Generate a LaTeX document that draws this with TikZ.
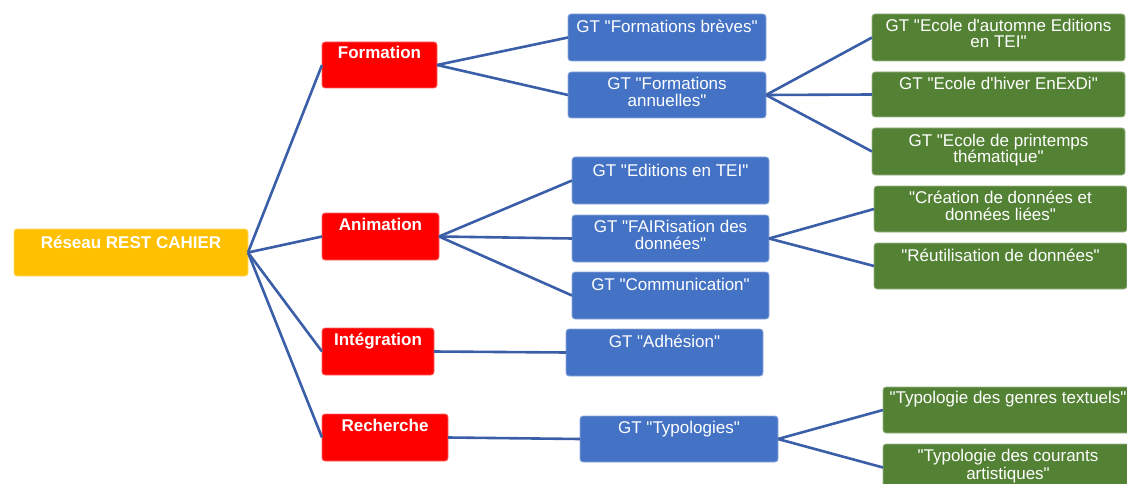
\documentclass[tikz,border=0pt]{standalone}
\usepackage{fontspec}
\setmainfont{Liberation Sans}
\usetikzlibrary{calc}
\definecolor{cOrange}{HTML}{FFC000}
\definecolor{cRed}{HTML}{FF0000}
\definecolor{cBlue}{HTML}{4472C4}
\definecolor{cGreen}{HTML}{548235}
\definecolor{cLine}{HTML}{3B5EA8}
\newcommand\qd{\textquotedbl}
\newcommand\qs{\textquotesingle}
\newcommand\mkbox[6]{%
  \node[#2, minimum width={(#5-#3)*1pt}, minimum height={(#6-#4)*1pt}] (#1) at ({(#3+#5)/2},{(#4+#6)/2}) {};}
\begin{document}
\begin{tikzpicture}[x=1pt,y=-1pt,
  boxbase/.style={rectangle, rounded corners=3pt, inner sep=0pt, outer sep=0pt, line width=0.8pt},
  rootbox/.style={boxbase, fill=cOrange, draw=cOrange!60!white},
  redbox/.style={boxbase, fill=cRed, draw=cRed!60!white},
  bluebox/.style={boxbase, fill=cBlue, draw=cBlue!60!white},
  greenbox/.style={boxbase, fill=cGreen, draw=cGreen!60!white},
  txt/.style={text=white, inner sep=0pt, outer sep=0pt, anchor=base, font=\fontsize{17pt}{17pt}\selectfont},
  btxt/.style={txt, font=\fontsize{17pt}{17pt}\selectfont\bfseries},
  link/.style={draw=cLine, line width=2.6pt}]
\useasboundingbox (0,0) rectangle (1127,484);

% boxes
\mkbox{root}{rootbox}{14}{229}{248}{276}
\mkbox{form}{redbox}{322}{42}{437}{88}
\mkbox{anim}{redbox}{322}{213}{439}{260}
\mkbox{integ}{redbox}{322}{328}{434}{375}
\mkbox{rech}{redbox}{322}{414}{448}{461}

\mkbox{fbr}{bluebox}{568}{14}{766}{61}
\mkbox{fan}{bluebox}{568}{72}{766}{118}
\mkbox{etei}{bluebox}{572}{157}{769}{204}
\mkbox{fair}{bluebox}{572}{215}{769}{262}
\mkbox{comm}{bluebox}{572}{272}{769}{319}
\mkbox{adh}{bluebox}{566}{329}{763}{376}
\mkbox{typo}{bluebox}{580}{416}{778}{462}

\mkbox{aut}{greenbox}{872}{14}{1125}{61}
\mkbox{hiv}{greenbox}{872}{72}{1125}{117}
\mkbox{prin}{greenbox}{872}{128}{1125}{175}
\mkbox{crea}{greenbox}{874}{186}{1127}{232}
\mkbox{reut}{greenbox}{874}{243}{1127}{289}
\mkbox{genr}{greenbox}{883}{387}{1133}{433}
\mkbox{cour}{greenbox}{883}{444}{1133}{491}

% texts
\node[btxt] (root-t) at ($(root.north)+(0,19)$) {Réseau REST CAHIER};
\node[btxt] (form-t) at ($(form.north)+(0,17)$) {Formation};
\node[btxt] (anim-t) at ($(anim.north)+(0,17)$) {Animation};
\node[btxt] (integ-t) at ($(integ.north)+(0,17.5)$) {Intégration};
\node[btxt] (rech-t) at ($(rech.north)+(0,17.5)$) {Recherche};

\node[txt] (fbr-t) at ($(fbr.north)+(0,19)$) {GT \qd Formations brèves\qd};
\node[txt] (fan-t1) at ($(fan.north)+(0,17.3)$) {GT \qd Formations};
\node[txt] (fan-t2) at ($(fan.north)+(0,34.3)$) {annuelles\qd};
\node[txt] (etei-t) at ($(etei.north)+(0,19)$) {GT \qd Editions en TEI\qd};
\node[txt] (fair-t1) at ($(fair.north)+(0,17)$) {GT \qd FAIRisation des};
\node[txt] (fair-t2) at ($(fair.north)+(0,34)$) {données\qd};
\node[txt] (comm-t) at ($(comm.north)+(0,18)$) {GT \qd Communication\qd};
\node[txt] (adh-t) at ($(adh.north)+(0,18.7)$) {GT \qd Adhésion\qd};
\node[txt] (typo-t) at ($(typo.north)+(0,17.5)$) {GT \qd Typologies\qd};

\node[txt] (aut-t1) at ($(aut.north)+(0,17.7)$) {GT \qd Ecole d\qs automne Editions};
\node[txt] (aut-t2) at ($(aut.north)+(0,33.7)$) {en TEI\qd};
\node[txt] (hiv-t) at ($(hiv.north)+(0,17.3)$) {GT \qd Ecole d\qs hiver EnExDi\qd};
\node[txt] (prin-t1) at ($(prin.north)+(0,18.5)$) {GT \qd Ecole de printemps};
\node[txt] (prin-t2) at ($(prin.north)+(0,34.7)$) {thématique\qd};
\node[txt] (crea-t1) at ($(crea.north)+(0,17)$) {\qd Création de données et};
\node[txt] (crea-t2) at ($(crea.north)+(0,34)$) {données liées\qd};
\node[txt] (reut-t) at ($(reut.north)+(0,18.7)$) {\qd Réutilisation de données\qd};
\node[txt] (genr-t) at ($(genr.north)+(0,16.5)$) {\qd Typologie des genres textuels\qd};
\node[txt] (cour-t1) at ($(cour.north)+(0,17.7)$) {\qd Typologie des courants};
\node[txt] (cour-t2) at ($(cour.north)+(0,35)$) {artistiques\qd};

% connectors
\foreach \c in {form,anim,integ,rech} \draw[link] (root.east) -- (\c.west);
\foreach \c in {fbr,fan} \draw[link] (form.east) -- (\c.west);
\foreach \c in {etei,fair,comm} \draw[link] (anim.east) -- (\c.west);
\draw[link] (integ.east) -- (adh.west);
\draw[link] (rech.east) -- (typo.west);
\foreach \c in {aut,hiv,prin} \draw[link] (fan.east) -- (\c.west);
\foreach \c in {crea,reut} \draw[link] (fair.east) -- (\c.west);
\foreach \c in {genr,cour} \draw[link] (typo.east) -- (\c.west);
\end{tikzpicture}
\end{document}
